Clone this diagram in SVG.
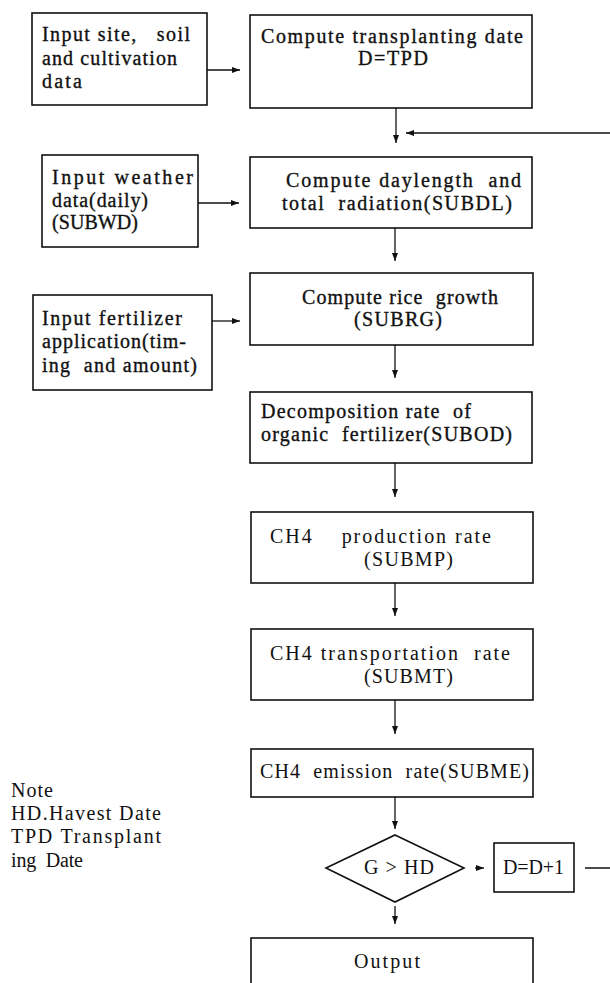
<svg xmlns="http://www.w3.org/2000/svg" width="610" height="983" viewBox="0 0 610 983">
<style>
.box{fill:#fff;stroke:#111;stroke-width:1.6}
.ln{fill:none;stroke:#111;stroke-width:1.3}
.t{font-family:"Liberation Serif","DejaVu Serif",serif;font-size:20px;fill:#111;stroke:#111;stroke-width:0.35;white-space:pre}
.s{font-family:"Liberation Serif","DejaVu Serif",serif;font-size:20px;fill:#111;white-space:pre}
</style>
<defs>
<marker id="ah" viewBox="0 0 8 6" refX="8" refY="3" markerWidth="8" markerHeight="6" markerUnits="userSpaceOnUse" orient="auto">
<path d="M0,0 L8,3 L0,6 Z" fill="#111"/>
</marker>
</defs>
<rect width="610" height="983" fill="#fff"/>

<g id="connectors">
<line class="ln" x1="207" y1="70" x2="240" y2="70" marker-end="url(#ah)"/>
<line class="ln" x1="396" y1="108" x2="396" y2="143" marker-end="url(#ah)"/>
<path class="ln" d="M585,868 H616 V133 H406" marker-end="url(#ah)"/>
<line class="ln" x1="198" y1="203" x2="239" y2="203" marker-end="url(#ah)"/>
<line class="ln" x1="395" y1="228" x2="395" y2="261" marker-end="url(#ah)"/>
<line class="ln" x1="212" y1="321" x2="240" y2="321" marker-end="url(#ah)"/>
<line class="ln" x1="395" y1="345" x2="395" y2="378" marker-end="url(#ah)"/>
<line class="ln" x1="395" y1="463" x2="395" y2="497" marker-end="url(#ah)"/>
<line class="ln" x1="395" y1="583" x2="395" y2="616" marker-end="url(#ah)"/>
<line class="ln" x1="395" y1="700" x2="395" y2="734" marker-end="url(#ah)"/>
<line class="ln" x1="395" y1="797" x2="395" y2="829" marker-end="url(#ah)"/>
<line class="ln" x1="475" y1="868" x2="484" y2="868" marker-end="url(#ah)"/>
<line class="ln" x1="395" y1="906" x2="395" y2="924" marker-end="url(#ah)"/>
</g>

<g id="input-site">
<rect class="box" x="32" y="13" width="175" height="92"/>
<text class="t" x="42" y="41" textLength="148" lengthAdjust="spacing">Input site,   soil</text>
<text class="t" x="42" y="65" textLength="135" lengthAdjust="spacing">and cultivation</text>
<text class="t" x="42" y="88" textLength="40" lengthAdjust="spacing">data</text>
</g>

<g id="transplanting">
<rect class="box" x="250" y="15" width="282" height="93"/>
<text class="t" x="261" y="43" textLength="262" lengthAdjust="spacing">Compute transplanting date</text>
<text class="t" x="358" y="65" textLength="70" lengthAdjust="spacing">D=TPD</text>
</g>

<g id="weather">
<rect class="box" x="42" y="155" width="156" height="92"/>
<text class="t" x="52" y="184" textLength="141" lengthAdjust="spacing">Input weather</text>
<text class="t" x="52" y="207" textLength="96" lengthAdjust="spacing">data(daily)</text>
<text class="t" x="52" y="229" textLength="86" lengthAdjust="spacing">(SUBWD)</text>
</g>

<g id="daylength">
<rect class="box" x="250" y="157" width="282" height="71"/>
<text class="t" x="286" y="187" textLength="235" lengthAdjust="spacing">Compute daylength  and</text>
<text class="t" x="282" y="210" textLength="230" lengthAdjust="spacing">total  radiation(SUBDL)</text>
</g>

<g id="fertilizer">
<rect class="box" x="33" y="295" width="179" height="95"/>
<text class="t" x="42" y="325" textLength="140" lengthAdjust="spacing">Input fertilizer</text>
<text class="t" x="42" y="348" textLength="144" lengthAdjust="spacing">application(tim-</text>
<text class="t" x="42" y="372" textLength="155" lengthAdjust="spacing">ing  and amount)</text>
</g>

<g id="rice-growth">
<rect class="box" x="250" y="273" width="283" height="72"/>
<text class="t" x="302" y="304" textLength="196" lengthAdjust="spacing">Compute rice  growth</text>
<text class="t" x="354" y="326" textLength="88" lengthAdjust="spacing">(SUBRG)</text>
</g>

<g id="decomposition">
<rect class="box" x="250" y="392" width="282" height="71"/>
<text class="t" x="261" y="418" textLength="210" lengthAdjust="spacing">Decomposition rate  of</text>
<text class="t" x="261" y="441" textLength="251" lengthAdjust="spacing">organic  fertilizer(SUBOD)</text>
</g>

<g id="production">
<rect class="box" x="251" y="512" width="282" height="71"/>
<text class="s" x="270" y="543" textLength="221" lengthAdjust="spacing">CH4    production rate</text>
<text class="s" x="364" y="566" textLength="89" lengthAdjust="spacing">(SUBMP)</text>
</g>

<g id="transportation">
<rect class="box" x="251" y="629" width="282" height="71"/>
<text class="s" x="270" y="660" textLength="240" lengthAdjust="spacing">CH4 transportation  rate</text>
<text class="s" x="364" y="683" textLength="89" lengthAdjust="spacing">(SUBMT)</text>
</g>

<g id="emission">
<rect class="box" x="251" y="749" width="282" height="48"/>
<text class="s" x="260" y="778" textLength="269" lengthAdjust="spacing">CH4  emission  rate(SUBME)</text>
</g>

<g id="decision">
<polygon class="box" points="395,835 464,868 395,902 326,868"/>
<text class="s" x="364" y="874" textLength="70" lengthAdjust="spacing">G &gt; HD</text>
</g>

<g id="increment">
<rect class="box" x="494" y="843" width="80" height="49"/>
<text class="s" x="503" y="874" textLength="61" lengthAdjust="spacing">D=D+1</text>
</g>

<g id="output">
<rect class="box" x="251" y="938" width="282" height="60"/>
<text class="s" x="354" y="968" textLength="66" lengthAdjust="spacing">Output</text>
</g>

<g id="note">
<text class="s" x="11" y="797" textLength="42" lengthAdjust="spacing">Note</text>
<text class="s" x="11" y="820" textLength="150" lengthAdjust="spacing">HD.Havest Date</text>
<text class="s" x="11" y="843" textLength="150" lengthAdjust="spacing">TPD Transplant</text>
<text class="s" x="11" y="867" textLength="72" lengthAdjust="spacing">ing  Date</text>
</g>
</svg>
